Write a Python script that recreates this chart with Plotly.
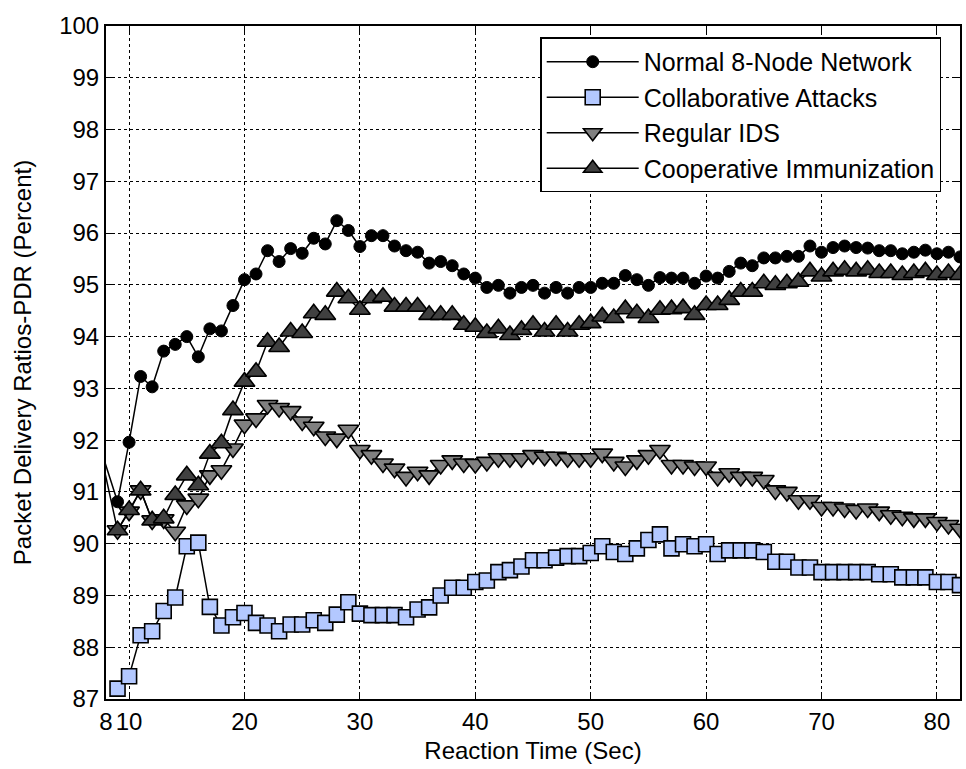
import plotly.graph_objects as go

# Reaction time (sec) of the plotted samples
time = list(range(9, 83))
# Earlier sample (outside the visible x-range) for the two series whose lines enter from the left
lead_time = 7
normal_lead = 92.2
regular_lead = 92.3

normal = [90.81, 91.96, 93.23, 93.03, 93.72, 93.85, 94.0, 93.61, 94.15, 94.11,
          94.6, 95.1, 95.21, 95.66, 95.45, 95.7, 95.61, 95.9, 95.79, 96.24,
          96.05, 95.74, 95.95, 95.95, 95.75, 95.66, 95.63, 95.42, 95.45, 95.37,
          95.21, 95.13, 94.95, 94.99, 94.84, 94.95, 94.99, 94.84, 94.95, 94.84,
          94.95, 94.95, 95.03, 95.03, 95.18, 95.1, 94.99, 95.14, 95.13, 95.13,
          95.03, 95.17, 95.13, 95.26, 95.42, 95.37, 95.52, 95.52, 95.55, 95.55,
          95.75, 95.63, 95.72, 95.75, 95.72, 95.71, 95.66, 95.66, 95.6, 95.63,
          95.67, 95.6, 95.63, 95.54]

collaborative = [87.2, 87.44, 88.23, 88.31, 88.7, 88.96, 89.95, 90.02, 88.78, 88.42,
                 88.58, 88.66, 88.47, 88.42, 88.31, 88.44, 88.44, 88.52, 88.47, 88.63,
                 88.87, 88.65, 88.62, 88.62, 88.62, 88.58, 88.73, 88.77, 89.0, 89.15,
                 89.15, 89.26, 89.29, 89.45, 89.49, 89.56, 89.68, 89.68, 89.73, 89.76,
                 89.76, 89.82, 89.95, 89.84, 89.8, 89.91, 90.07, 90.18, 89.91, 89.99,
                 89.95, 89.99, 89.8, 89.87, 89.87, 89.87, 89.84, 89.65, 89.65, 89.54,
                 89.54, 89.45, 89.45, 89.45, 89.45, 89.45, 89.41, 89.41, 89.35, 89.35,
                 89.35, 89.26, 89.26, 89.2]

regular_ids = [90.26, 90.62, 91.03, 90.45, 90.47, 90.23, 90.74, 90.87, 91.32, 91.42,
               91.84, 92.3, 92.42, 92.68, 92.62, 92.56, 92.36, 92.26, 92.07, 92.03,
               92.2, 91.81, 91.71, 91.55, 91.45, 91.29, 91.39, 91.32, 91.52, 91.61,
               91.55, 91.54, 91.58, 91.65, 91.65, 91.65, 91.71, 91.68, 91.68, 91.65,
               91.65, 91.65, 91.74, 91.58, 91.49, 91.61, 91.71, 91.81, 91.52, 91.52,
               91.49, 91.49, 91.29, 91.36, 91.29, 91.29, 91.23, 91.03, 91.0, 90.84,
               90.84, 90.71, 90.71, 90.68, 90.65, 90.68, 90.62, 90.55, 90.52, 90.49,
               90.49, 90.42, 90.36, 90.29]

cooperative = [90.26, 90.65, 91.03, 90.45, 90.49, 90.94, 91.32, 91.13, 91.74, 91.94,
               92.58, 93.13, 93.32, 93.9, 93.8, 94.1, 94.07, 94.45, 94.42, 94.87,
               94.74, 94.52, 94.74, 94.77, 94.58, 94.58, 94.58, 94.42, 94.42, 94.42,
               94.23, 94.19, 94.07, 94.16, 94.03, 94.13, 94.23, 94.1, 94.23, 94.1,
               94.23, 94.26, 94.39, 94.36, 94.53, 94.45, 94.36, 94.52, 94.53, 94.55,
               94.42, 94.61, 94.61, 94.71, 94.87, 94.87, 95.03, 95.0, 95.03, 95.06,
               95.26, 95.16, 95.26, 95.29, 95.26, 95.29, 95.23, 95.23, 95.19, 95.23,
               95.26, 95.19, 95.23, 95.19]

x_ticks = [8, 10, 20, 30, 40, 50, 60, 70, 80]
x_tick_labels = ["8", "10", "20", "30", "40", "50", "60", "70", "80"]
y_ticks = list(range(87, 101))

FONT = "Liberation Sans, Arial, Helvetica, sans-serif"
line_style = dict(color="black", width=1.5)

fig = go.Figure()
fig.add_trace(go.Scatter(
    x=[lead_time] + time, y=[normal_lead] + normal, mode="lines+markers",
    name="Normal 8-Node Network", line=line_style,
    marker=dict(symbol="circle", size=12, color="black", line=dict(color="black", width=1))))
fig.add_trace(go.Scatter(
    x=time, y=collaborative, mode="lines+markers",
    name="Collaborative Attacks", line=line_style,
    marker=dict(symbol="square", size=15, color="#b3c8ff", line=dict(color="black", width=1.6))))
fig.add_trace(go.Scatter(
    x=[lead_time] + time, y=[regular_lead] + regular_ids, mode="lines+markers",
    name="Regular IDS", line=line_style,
    marker=dict(symbol="triangle-down", size=18, color="#808080", line=dict(color="black", width=1.6))))
fig.add_trace(go.Scatter(
    x=time, y=cooperative, mode="lines+markers",
    name="Cooperative Immunization", line=line_style,
    marker=dict(symbol="triangle-up", size=18, color="#404040", line=dict(color="black", width=1.6))))

axis_common = dict(
    showline=True, linecolor="black", linewidth=2, mirror="ticks",
    ticks="inside", ticklen=6, tickwidth=1, tickcolor="black",
    showgrid=True, gridcolor="black", griddash="dot", gridwidth=1,
    zeroline=False, tickfont=dict(family=FONT, size=24, color="black"),
)

fig.update_layout(
    width=966, height=769,
    margin=dict(l=106, r=4, t=26, b=70),
    paper_bgcolor="white", plot_bgcolor="white",
    font=dict(family=FONT, color="black"),
    xaxis=dict(range=[8, 82], tickmode="array", tickvals=x_ticks, ticktext=x_tick_labels,
               title=dict(text="Reaction Time (Sec)", font=dict(family=FONT, size=24), standoff=8),
               **axis_common),
    yaxis=dict(range=[87, 100], tickmode="array", tickvals=y_ticks,
               title=dict(text="Packet Delivery Ratios-PDR (Percent)", font=dict(family=FONT, size=24), standoff=21),
               **axis_common),
    legend=dict(x=0.978, xanchor="right", y=0.983, yanchor="top",
                bgcolor="white", bordercolor="black", borderwidth=1.5,
                font=dict(family=FONT, size=25, color="black"), itemwidth=92,
                tracegroupgap=0),
    showlegend=True,
)

fig.write_html("out.html")
